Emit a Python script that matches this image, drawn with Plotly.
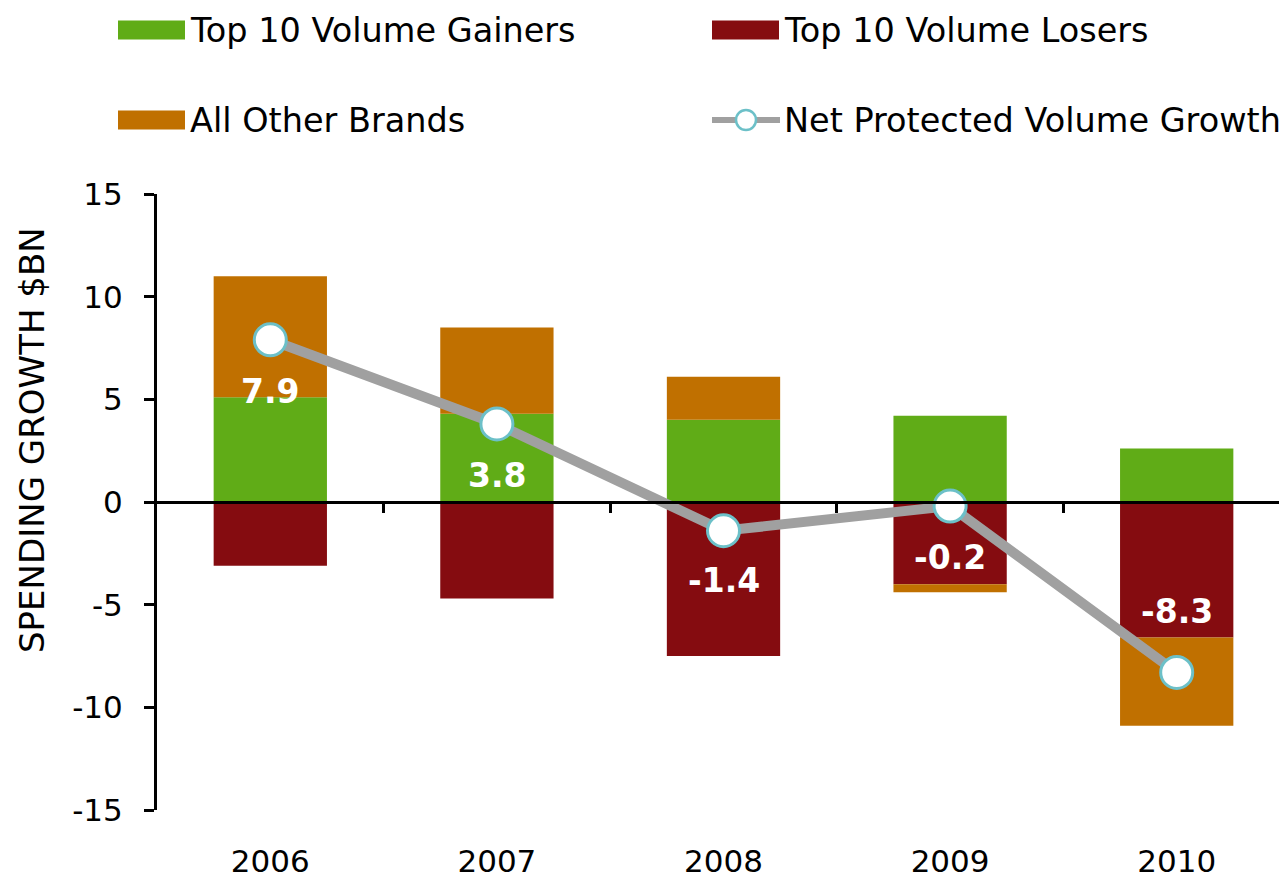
import plotly.graph_objects as go

years = ["2006", "2007", "2008", "2009", "2010"]
gainers = [5.1, 4.3, 4.0, 4.2, 2.6]
losers = [-3.1, -4.7, -7.5, -4.0, -6.6]
others = [5.9, 4.2, 2.1, -0.4, -4.3]
net = [7.9, 3.8, -1.4, -0.2, -8.3]
net_labels = ["7.9", "3.8", "-1.4", "-0.2", "-8.3"]
label_shift = [-52, -52, -50, -51, 61]
boundaries = [0.5, 1.5, 2.5, 3.5]
yticks = [15, 10, 5, 0, -5, -10, -15]
yticktext = ["15", "10", "5", "0", "-5", "-10", "-15"]

FONT = "Verdana, DejaVu Sans, sans-serif"
GREEN = "#60AC17"
RED = "#850C10"
ORANGE = "#C07000"
LINE = "#A0A0A0"
RING = "#6CC0C8"

W, H = 1287, 882
OFF = 8  # page offset of the plot div
ML, MR, MT, MB = 149, 5, 186, 80
PW, PH = W - ML - MR, H - MT - MB


def px(x):
    return (x - OFF - ML) / PW


def py(y):
    return (H - MB - (y - OFF)) / PH


fig = go.Figure()
fig.add_trace(go.Bar(x=years, y=gainers, name="Top 10 Volume Gainers",
                     marker=dict(color=GREEN, line=dict(width=0)), width=0.5, showlegend=False))
fig.add_trace(go.Bar(x=years, y=losers, name="Top 10 Volume Losers",
                     marker=dict(color=RED, line=dict(width=0)), width=0.5, showlegend=False))
fig.add_trace(go.Bar(x=years, y=others, name="All Other Brands",
                     marker=dict(color=ORANGE, line=dict(width=0)), width=0.5, showlegend=False))
fig.add_trace(go.Scatter(x=years, y=net, name="Net Protected Volume Growth", mode="lines+markers",
                         line=dict(color=LINE, width=10),
                         marker=dict(size=32, color="white", line=dict(color=RING, width=3)),
                         showlegend=False, cliponaxis=False))

for i, (v, t, s) in enumerate(zip(net, net_labels, label_shift)):
    fig.add_annotation(x=i, y=v, xref="x", yref="y", text="<b>%s</b>" % t, showarrow=False,
                       yshift=s, font=dict(family=FONT, size=33, color="white"))

# zero line axis with ticks at category boundaries
fig.add_trace(go.Scatter(x=[None], y=[None], xaxis="x2", showlegend=False, hoverinfo="skip"))

# y-axis title
fig.add_annotation(x=px(32), y=py(440), xref="paper", yref="paper", text="SPENDING GROWTH $BN",
                   showarrow=False, textangle=-90, xanchor="center", yanchor="middle",
                   font=dict(family=FONT, size=34, color="black"))

# custom legend (swatches + texts)
legend_items = [
    ("Top 10 Volume Gainers", GREEN, 118, 30),
    ("Top 10 Volume Losers", RED, 712, 30),
    ("All Other Brands", ORANGE, 118, 120),
    ("Net Protected Volume Growth", None, 712, 120),
]
for name, color, x0, yc in legend_items:
    if color is not None:
        fig.add_shape(type="rect", xref="paper", yref="paper",
                      x0=px(x0), x1=px(x0 + 67), y0=py(yc - 9.5), y1=py(yc + 9.5),
                      fillcolor=color, line=dict(width=0), layer="above")
    else:
        fig.add_shape(type="line", xref="paper", yref="paper",
                      x0=px(x0), x1=px(x0 + 68), y0=py(yc), y1=py(yc),
                      line=dict(color=LINE, width=6), layer="above")
        fig.add_shape(type="circle", xref="paper", yref="paper",
                      x0=px(x0 + 34 - 10), x1=px(x0 + 34 + 10),
                      y0=py(yc - 10), y1=py(yc + 10),
                      fillcolor="white", line=dict(color=RING, width=2.5), layer="above")
    fig.add_annotation(x=px(x0 + 70), y=py(yc), xref="paper", yref="paper", text=name,
                       showarrow=False, xanchor="left", yanchor="middle",
                       font=dict(family=FONT, size=33.5, color="black"))

fig.update_layout(
    width=W, height=H,
    margin=dict(l=ML, r=MR, t=MT, b=MB, autoexpand=False),
    paper_bgcolor="white", plot_bgcolor="white",
    barmode="relative",
    font=dict(family=FONT, size=31, color="black"),
    showlegend=False,
    xaxis=dict(type="category", range=[-0.5, 4.5], showline=False, ticks="",
               showgrid=False, zeroline=False, tickfont=dict(size=31),
               ticklabelstandoff=30, automargin=False),
    xaxis2=dict(overlaying="x", anchor="free", position=0.5, range=[-0.5, 4.5],
                showline=True, linecolor="black", linewidth=3,
                tickvals=boundaries, ticks="outside", ticklen=9, tickwidth=3,
                tickcolor="black", showticklabels=False, showgrid=False, zeroline=False),
    yaxis=dict(range=[-15, 15], tickvals=yticks, ticktext=yticktext, showline=True,
               linecolor="black", linewidth=3, ticks="outside", ticklen=10, tickwidth=3,
               tickcolor="black", showgrid=False, zeroline=False, tickfont=dict(size=31),
               ticklabelstandoff=15, automargin=False),
)

fig.write_html("out.html")
